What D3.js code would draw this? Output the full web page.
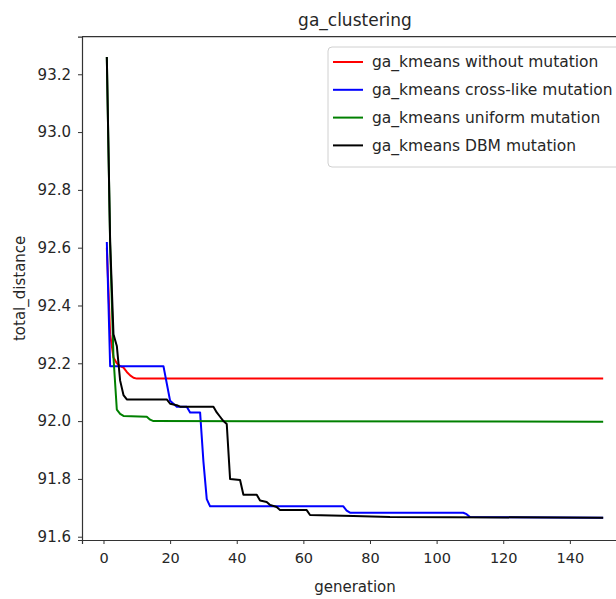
<!DOCTYPE html>
<html>
<head>
<meta charset="utf-8">
<script src="https://cdn.jsdelivr.net/npm/d3@7"></script>
<style>
  body { margin: 0; background: #fff; }
  svg text { font-family: "DejaVu Sans", sans-serif; fill: #262626; }
  .axis path, .axis line { stroke: #333; }
</style>
</head>
<body>
<svg id="chart" width="616" height="599"></svg>
<script>
'use strict'

// [generation, total_distance] (steps kept as breakpoints)
var withoutMutation = [[1,92.6],[2,92.3],[3,92.22],[4,92.2],[5,92.19],[6,92.185],[7,92.17],[8,92.158],[9,92.15],[10,92.147],[150,92.147]]
var crossLike = [[1,92.62],[2,92.19],[18,92.19],[19,92.13],[20,92.07],[21,92.06],[22,92.05],[25,92.05],[26,92.03],[29,92.03],[30,91.86],[31,91.73],[32,91.705],[72,91.705],[73,91.69],[74,91.683],[108,91.683],[109,91.678],[110,91.668],[150,91.666]]
var uniform = [[1,93.26],[2,92.61],[3,92.22],[4,92.04],[5,92.025],[6,92.018],[13,92.015],[14,92.005],[15,92.0],[150,91.998]]
var dbm = [[1,93.26],[2,92.62],[3,92.3],[4,92.26],[5,92.14],[6,92.09],[7,92.075],[19,92.075],[20,92.06],[22,92.055],[23,92.05],[33,92.05],[34,92.03],[35,92.015],[36,92.0],[37,91.99],[38,91.8],[41,91.796],[42,91.745],[46,91.745],[47,91.725],[49,91.72],[50,91.71],[52,91.703],[53,91.692],[61,91.692],[62,91.675],[75,91.672],[86,91.668],[150,91.666]]

var seriesNames = ['ga_kmeans without mutation','ga_kmeans cross-like mutation','ga_kmeans uniform mutation','ga_kmeans DBM mutation']
var seriesColors = ['#ff0000','#0000ff','#008000','#000000']
var seriesData = [withoutMutation, crossLike, uniform, dbm]

var xTicks = [0,20,40,60,80,100,120,140]
var yTicks = [91.6,91.8,92.0,92.2,92.4,92.6,92.8,93.0,93.2]

var svg = d3.select("#chart"),
    plotLeft = 82, plotTop = 36.7, plotRight = 628, plotBottom = 540;

var x = d3.scaleLinear().domain([-6.45,157.45]).range([plotLeft,plotRight])
var y = d3.scaleLinear().domain([91.5886,93.330]).range([plotBottom,plotTop])

// axes frame
svg.append("line").attr("x1",plotLeft).attr("x2",plotRight).attr("y1",plotTop).attr("y2",plotTop)
  .attr("stroke","#333").attr("stroke-width",1.2)

svg.append("g")
    .attr("class","axis")
    .attr("transform","translate(0," + plotBottom + ")")
    .call(d3.axisBottom(x).tickValues(xTicks).tickSize(4).tickPadding(6).tickFormat(d3.format('d')))
    .call(g => g.selectAll("text").style("font-size","14.5px").attr("dy","0.9em"))

svg.append("g")
    .attr("class","axis")
    .attr("transform","translate(" + plotLeft + ",0)")
    .call(d3.axisLeft(y).tickValues(yTicks).tickSize(4).tickPadding(7).tickFormat(d3.format('.1f')))
    .call(g => g.selectAll("text").style("font-size","15px"))

svg.selectAll(".axis path").attr("stroke-width",1.2)

var line = d3.line().x(d => x(d[0])).y(d => y(d[1]))

seriesData.forEach(function(s,i){
  svg.append("path")
    .datum(s)
    .attr("d", line)
    .attr("fill","none")
    .attr("stroke", seriesColors[i])
    .attr("stroke-width", 2)
    .attr("stroke-linejoin","round")
})

// titles
svg.append("text").attr("x",(plotLeft+plotRight)/2).attr("y",26)
  .attr("text-anchor","middle").style("font-size","17px").text("ga_clustering")
svg.append("text").attr("x",(plotLeft+plotRight)/2).attr("y",592)
  .attr("text-anchor","middle").style("font-size","15px").text("generation")
svg.append("text").attr("transform","translate(25," + (plotTop+plotBottom)/2 + ") rotate(-90)")
  .attr("text-anchor","middle").style("font-size","15px").text("total_distance")

// legend
var legend = svg.append("g")
legend.append("rect")
  .attr("x",328).attr("y",47).attr("width",292).attr("height",120).attr("rx",4)
  .attr("fill","#fff").attr("fill-opacity",0.85).attr("stroke","#d0d0d0")

var item = legend.selectAll("g.item")
  .data(seriesNames)
  .enter().append("g")
  .attr("transform",(d,i) => "translate(0," + (62 + i*27.8) + ")")

item.append("line").attr("x1",333).attr("x2",363)
  .attr("stroke",(d,i) => seriesColors[i]).attr("stroke-width",2)
item.append("text").attr("x",372).attr("dy","0.35em")
  .style("font-size","15.5px").text(d => d)
</script>
</body>
</html>
